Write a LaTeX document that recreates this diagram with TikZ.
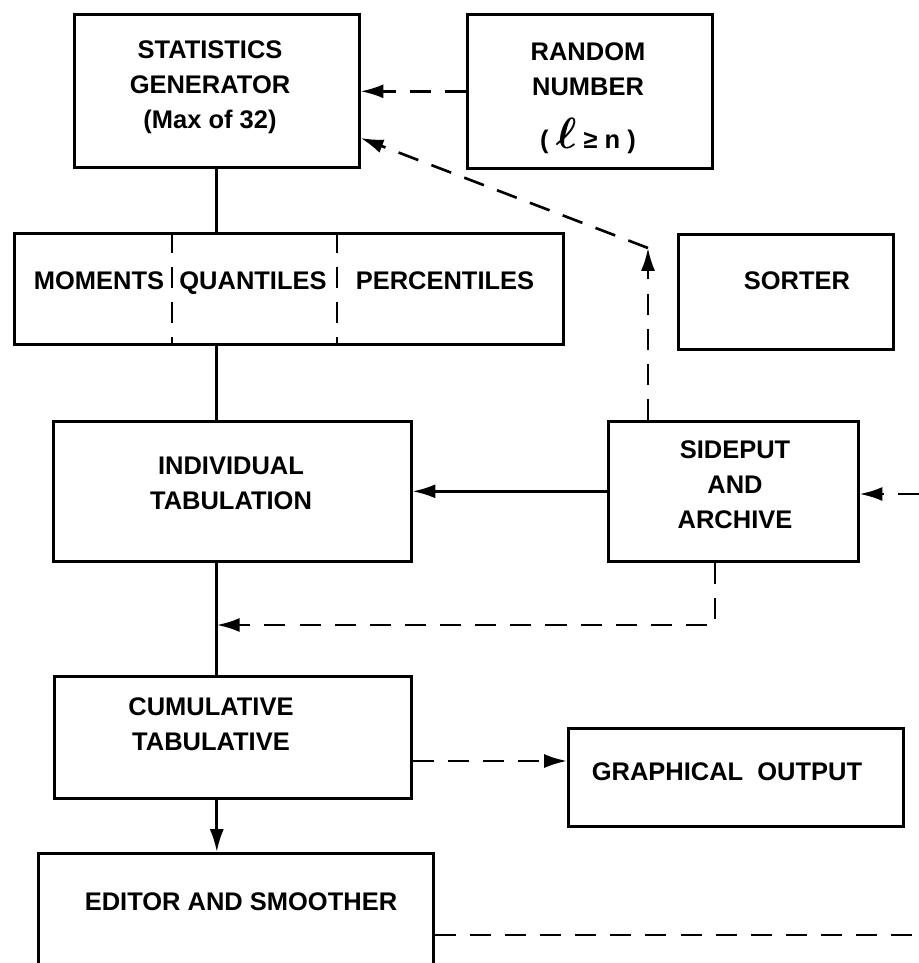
\documentclass[tikz,border=0pt]{standalone}
\usepackage{fontspec}
\setmainfont{Liberation Sans}
\usepackage{tikz}
\usetikzlibrary{arrows.meta}

\begin{document}
\begin{tikzpicture}[x=0.02cm, y=-0.02cm, line width=1.5pt,
  every node/.style={font=\fontsize{14.5}{20}\selectfont\bfseries, align=center},
  box/.style={draw, inner sep=0pt, anchor=north west},
  cell/.style={text height=11pt, text depth=3pt},
  dsh/.style={dash pattern=on 12pt off 8pt},
  feed/.style={-{Latex[length=13pt,width=8pt]}}]
% page frame
\useasboundingbox (0,0) rectangle (919,963);
\clip (0,0) rectangle (919,963);
\fill[white] (0,0) rectangle (919,963);
% boxes
\node[box, minimum width=5.70cm, minimum height=3.06cm] (stat) at (73,13) {};
\node[box, minimum width=4.90cm, minimum height=3.08cm] (rand) at (466,13) {};
\node[box, minimum width=10.98cm, minimum height=2.22cm] (mom) at (13,232) {};
\node[box, minimum width=4.30cm, minimum height=2.30cm] (sort) at (677,233) {};
\node[box, minimum width=7.16cm, minimum height=2.80cm] (indiv) at (52,420) {};
\node[box, minimum width=5.00cm, minimum height=2.80cm] (side) at (607,420) {};
\node[box, minimum width=7.14cm, minimum height=2.44cm] (cum) at (53,675) {};
\node[box, minimum width=6.70cm, minimum height=1.96cm] (gr) at (567,727) {};
\node[box, minimum width=7.90cm, minimum height=2.80cm] (ed) at (37,852) {};
% labels
\node (statT) at (210,87) {STATISTICS\\GENERATOR\\(Max of 32)};
\node (randT) at (588,98) {RANDOM\\NUMBER\\[10pt]( {\Huge\boldmath$\ell$} ≥ n )};
\node[cell] (momT) at (99,282) {MOMENTS};
\node[cell] (quaT) at (253,282) {QUANTILES};
\node[cell] (perT) at (445,282) {PERCENTILES};
\node[cell] (sortT) at (797,282) {SORTER};
\node (indivT) at (231,483) {INDIVIDUAL\\TABULATION};
\node (sideT) at (735,485) {SIDEPUT\\AND\\ARCHIVE};
\node (cumT) at (211,724) {CUMULATIVE\\TABULATIVE};
\node[cell] (grT) at (727,773) {GRAPHICAL\ \ OUTPUT};
\node[cell] (edT) at (241,903) {EDITOR AND SMOOTHER};
% dividers in the statistics row
\draw[dsh] (172,0 |- mom.north) -- (172,0 |- mom.south);
\draw[dsh] (337,0 |- mom.north) -- (337,0 |- mom.south);
% main trunk
\draw (stat.south) -- (stat.south |- mom.north);
\draw (stat.south |- mom.south) -- (stat.south |- indiv.north);
\draw (stat.south |- indiv.south) -- (stat.south |- cum.north);
\draw[feed] (stat.south |- cum.south) -- (stat.south |- ed.north);
% random numbers in
\draw[dsh, feed] (rand.west) -- (rand.west -| stat.east);
% sideput links
\draw[feed] (side.west) -- (side.west -| indiv.east);
\coordinate (inR) at (919,494);
\draw[dsh, feed] (inR) -- (inR -| side.east);
\coordinate (bend) at (648,248);
\draw[dsh, feed] (bend |- side.north) -- (bend);
\draw[dsh, feed] (bend) -- (stat.east |- 0,138);
\coordinate (join) at (715,625);
\draw[dsh, feed] (join |- side.south) |- (stat.south |- join);
% outputs
\draw[dsh, feed] (cum.east |- 0,761) -- (gr.west |- 0,761);
\coordinate (outR) at (919,935);
\draw[dsh] (ed.east |- outR) -- (outR);
\end{tikzpicture}
\end{document}
